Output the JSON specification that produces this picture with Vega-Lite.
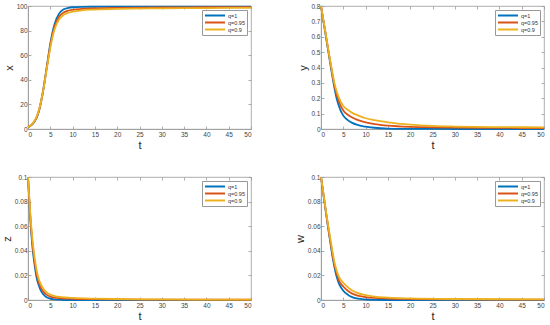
{
  "$schema": "https://vega.github.io/schema/vega-lite/v6.json",
  "padding": {"left": 0, "top": 2, "right": 0, "bottom": 0},
  "background": "white",
  "config": {
    "font": "Liberation Sans",
    "view": {"stroke": "#999", "strokeWidth": 0.8},
    "axis": {"grid": false, "domainColor": "#999", "domainWidth": 0.8, "tickColor": "#999", "tickWidth": 0.8, "tickSize": -3, "labelColor": "#444", "labelFontSize": 6.5, "labelPadding": 5, "titleFontSize": 11, "titleFontWeight": "normal", "titleColor": "#222", "titlePadding": 2},
    "axisY": {"labelPadding": 4},
    "legend": {"orient": "top-right", "offset": 4, "strokeColor": "#999", "fillColor": "white", "padding": 2, "symbolType": "stroke", "symbolSize": 400, "symbolStrokeWidth": 2, "labelFontSize": 5.5, "labelColor": "#333", "labelOffset": 2, "rowPadding": 0, "clipHeight": 7, "title": null}
  },
  "datasets": {
    "dx": [
      {"t": 0, "a": 1.5, "b": 1.5, "c": 1.5},
      {"t": 0.5, "a": 2.5, "b": 2.6, "c": 2.7},
      {"t": 1, "a": 4.0, "b": 4.2, "c": 4.4},
      {"t": 1.5, "a": 6.3, "b": 6.6, "c": 6.9},
      {"t": 2, "a": 9.7, "b": 10.1, "c": 10.5},
      {"t": 2.5, "a": 15.2, "b": 15.6, "c": 16.0},
      {"t": 3, "a": 23.4, "b": 23.6, "c": 23.8},
      {"t": 3.5, "a": 33.5, "b": 33.4, "c": 33.2},
      {"t": 4, "a": 45.5, "b": 45.0, "c": 44.3},
      {"t": 4.5, "a": 57.7, "b": 56.7, "c": 55.5},
      {"t": 5, "a": 69.3, "b": 67.8, "c": 66.0},
      {"t": 5.5, "a": 78.8, "b": 76.8, "c": 74.8},
      {"t": 6, "a": 85.8, "b": 83.6, "c": 81.5},
      {"t": 7, "a": 94.0, "b": 91.5, "c": 89.2},
      {"t": 8, "a": 97.3, "b": 94.8, "c": 92.8},
      {"t": 9, "a": 98.5, "b": 96.2, "c": 94.5},
      {"t": 10, "a": 99.0, "b": 96.9, "c": 95.4},
      {"t": 12, "a": 99.3, "b": 97.6, "c": 96.4},
      {"t": 15, "a": 99.4, "b": 98.1, "c": 97.1},
      {"t": 20, "a": 99.5, "b": 98.5, "c": 97.7},
      {"t": 30, "a": 99.5, "b": 98.8, "c": 98.1},
      {"t": 40, "a": 99.5, "b": 99.0, "c": 98.3},
      {"t": 50, "a": 99.5, "b": 99.1, "c": 98.5}
    ],
    "dy": [
      {"t": 0, "a": 0.8, "b": 0.8, "c": 0.8},
      {"t": 0.5, "a": 0.71, "b": 0.71, "c": 0.715},
      {"t": 1, "a": 0.62, "b": 0.625, "c": 0.63},
      {"t": 1.5, "a": 0.53, "b": 0.535, "c": 0.54},
      {"t": 2, "a": 0.44, "b": 0.45, "c": 0.455},
      {"t": 2.5, "a": 0.35, "b": 0.365, "c": 0.375},
      {"t": 3, "a": 0.27, "b": 0.285, "c": 0.30},
      {"t": 3.5, "a": 0.2, "b": 0.225, "c": 0.245},
      {"t": 4, "a": 0.15, "b": 0.18, "c": 0.205},
      {"t": 5, "a": 0.087, "b": 0.12, "c": 0.15},
      {"t": 6, "a": 0.058, "b": 0.093, "c": 0.125},
      {"t": 7, "a": 0.04, "b": 0.075, "c": 0.105},
      {"t": 8, "a": 0.028, "b": 0.061, "c": 0.092},
      {"t": 10, "a": 0.015, "b": 0.043, "c": 0.07},
      {"t": 12, "a": 0.008, "b": 0.032, "c": 0.057},
      {"t": 15, "a": 0.003, "b": 0.022, "c": 0.043},
      {"t": 20, "a": 0.001, "b": 0.014, "c": 0.028},
      {"t": 25, "a": 0.0003, "b": 0.011, "c": 0.02},
      {"t": 30, "a": 0.0001, "b": 0.009, "c": 0.016},
      {"t": 40, "a": 0, "b": 0.007, "c": 0.012},
      {"t": 50, "a": 0, "b": 0.006, "c": 0.011}
    ],
    "dz": [
      {"t": 0, "a": 0.1, "b": 0.1, "c": 0.1},
      {"t": 0.25, "a": 0.083, "b": 0.084, "c": 0.085},
      {"t": 0.5, "a": 0.067, "b": 0.069, "c": 0.071},
      {"t": 1, "a": 0.043, "b": 0.046, "c": 0.049},
      {"t": 1.5, "a": 0.028, "b": 0.031, "c": 0.034},
      {"t": 2, "a": 0.017, "b": 0.020, "c": 0.023},
      {"t": 2.5, "a": 0.011, "b": 0.0135, "c": 0.016},
      {"t": 3, "a": 0.0068, "b": 0.0093, "c": 0.0118},
      {"t": 3.5, "a": 0.0043, "b": 0.0066, "c": 0.0088},
      {"t": 4, "a": 0.0027, "b": 0.0048, "c": 0.0068},
      {"t": 5, "a": 0.0011, "b": 0.0028, "c": 0.0044},
      {"t": 6, "a": 0.0005, "b": 0.0019, "c": 0.0032},
      {"t": 7.5, "a": 0.0002, "b": 0.0014, "c": 0.0024},
      {"t": 10, "a": 0, "b": 0.001, "c": 0.0017},
      {"t": 15, "a": 0, "b": 0.0007, "c": 0.0011},
      {"t": 20, "a": 0, "b": 0.0005, "c": 0.0008},
      {"t": 30, "a": 0, "b": 0.0003, "c": 0.0005},
      {"t": 50, "a": 0, "b": 0.0002, "c": 0.0003}
    ],
    "dw": [
      {"t": 0, "a": 0.1, "b": 0.1, "c": 0.1},
      {"t": 0.5, "a": 0.087, "b": 0.087, "c": 0.088},
      {"t": 1, "a": 0.074, "b": 0.074, "c": 0.075},
      {"t": 1.5, "a": 0.061, "b": 0.062, "c": 0.063},
      {"t": 2, "a": 0.049, "b": 0.050, "c": 0.052},
      {"t": 2.5, "a": 0.037, "b": 0.039, "c": 0.041},
      {"t": 3, "a": 0.027, "b": 0.029, "c": 0.031},
      {"t": 3.5, "a": 0.019, "b": 0.022, "c": 0.024},
      {"t": 4, "a": 0.0135, "b": 0.016, "c": 0.019},
      {"t": 5, "a": 0.0075, "b": 0.011, "c": 0.014},
      {"t": 6, "a": 0.0043, "b": 0.0075, "c": 0.0105},
      {"t": 7, "a": 0.0024, "b": 0.0052, "c": 0.0078},
      {"t": 8, "a": 0.0013, "b": 0.0038, "c": 0.006},
      {"t": 10, "a": 0.0004, "b": 0.0024, "c": 0.004},
      {"t": 12, "a": 0.0001, "b": 0.0017, "c": 0.0028},
      {"t": 15, "a": 0, "b": 0.0012, "c": 0.002},
      {"t": 20, "a": 0, "b": 0.0008, "c": 0.0013},
      {"t": 30, "a": 0, "b": 0.0005, "c": 0.0008},
      {"t": 50, "a": 0, "b": 0.0003, "c": 0.0005}
    ]
  },
  "columns": 2,
  "spacing": {"row": 48, "column": 70},
  "bounds": "flush",
  "resolve": {"legend": {"color": "independent"}},
  "concat": [
    {
      "width": 223, "height": 123,
      "data": {"name": "dx"},
      "transform": [{"fold": ["a", "b", "c"], "as": ["q", "v"]}],
      "layer": [
        {"mark": {"type": "line", "strokeWidth": 1.8, "interpolate": "monotone"},
         "encoding": {
           "x": {"field": "t", "type": "quantitative", "scale": {"domain": [0, 50], "nice": false}, "axis": {"values": [0,5,10,15,20,25,30,35,40,45,50], "title": "t"}},
           "y": {"field": "v", "type": "quantitative", "scale": {"domain": [0, 100], "nice": false}, "axis": {"values": [0,20,40,60,80,100], "format": "~r", "title": "x"}},
           "color": {"field": "q", "type": "nominal", "scale": {"domain": ["a", "b", "c"], "range": ["#0072BD", "#D95319", "#EDB120"]}, "legend": {"labelExpr": "datum.label == 'a' ? 'q=1' : datum.label == 'b' ? 'q=0.95' : 'q=0.9'"}}
         }},
        {"mark": {"type": "point", "opacity": 0},
         "encoding": {
           "x": {"field": "t", "type": "quantitative", "axis": {"orient": "top", "values": [0,5,10,15,20,25,30,35,40,45,50], "labels": false, "title": null, "domain": false}},
           "y": {"field": "v", "type": "quantitative", "axis": {"orient": "right", "values": [0,20,40,60,80,100], "labels": false, "title": null, "domain": false}}
         }}
      ],
      "resolve": {"axis": {"x": "independent", "y": "independent"}}
    },
    {
      "width": 223, "height": 123,
      "data": {"name": "dy"},
      "transform": [{"fold": ["a", "b", "c"], "as": ["q", "v"]}],
      "layer": [
        {"mark": {"type": "line", "strokeWidth": 1.8, "interpolate": "monotone"},
         "encoding": {
           "x": {"field": "t", "type": "quantitative", "scale": {"domain": [0, 50], "nice": false}, "axis": {"values": [0,5,10,15,20,25,30,35,40,45,50], "title": "t"}},
           "y": {"field": "v", "type": "quantitative", "scale": {"domain": [0, 0.8], "nice": false}, "axis": {"values": [0,0.1,0.2,0.3,0.4,0.5,0.6,0.7,0.8], "format": "~r", "title": "y"}},
           "color": {"field": "q", "type": "nominal", "scale": {"domain": ["a", "b", "c"], "range": ["#0072BD", "#D95319", "#EDB120"]}, "legend": {"labelExpr": "datum.label == 'a' ? 'q=1' : datum.label == 'b' ? 'q=0.95' : 'q=0.9'"}}
         }},
        {"mark": {"type": "point", "opacity": 0},
         "encoding": {
           "x": {"field": "t", "type": "quantitative", "axis": {"orient": "top", "values": [0,5,10,15,20,25,30,35,40,45,50], "labels": false, "title": null, "domain": false}},
           "y": {"field": "v", "type": "quantitative", "axis": {"orient": "right", "values": [0,0.1,0.2,0.3,0.4,0.5,0.6,0.7,0.8], "labels": false, "title": null, "domain": false}}
         }}
      ],
      "resolve": {"axis": {"x": "independent", "y": "independent"}}
    },
    {
      "width": 223, "height": 123,
      "data": {"name": "dz"},
      "transform": [{"fold": ["a", "b", "c"], "as": ["q", "v"]}],
      "layer": [
        {"mark": {"type": "line", "strokeWidth": 1.8, "interpolate": "monotone"},
         "encoding": {
           "x": {"field": "t", "type": "quantitative", "scale": {"domain": [0, 50], "nice": false}, "axis": {"values": [0,5,10,15,20,25,30,35,40,45,50], "title": "t"}},
           "y": {"field": "v", "type": "quantitative", "scale": {"domain": [0, 0.1], "nice": false}, "axis": {"values": [0,0.02,0.04,0.06,0.08,0.1], "format": "~r", "title": "z"}},
           "color": {"field": "q", "type": "nominal", "scale": {"domain": ["a", "b", "c"], "range": ["#0072BD", "#D95319", "#EDB120"]}, "legend": {"labelExpr": "datum.label == 'a' ? 'q=1' : datum.label == 'b' ? 'q=0.95' : 'q=0.9'"}}
         }},
        {"mark": {"type": "point", "opacity": 0},
         "encoding": {
           "x": {"field": "t", "type": "quantitative", "axis": {"orient": "top", "values": [0,5,10,15,20,25,30,35,40,45,50], "labels": false, "title": null, "domain": false}},
           "y": {"field": "v", "type": "quantitative", "axis": {"orient": "right", "values": [0,0.02,0.04,0.06,0.08,0.1], "labels": false, "title": null, "domain": false}}
         }}
      ],
      "resolve": {"axis": {"x": "independent", "y": "independent"}}
    },
    {
      "width": 223, "height": 123,
      "data": {"name": "dw"},
      "transform": [{"fold": ["a", "b", "c"], "as": ["q", "v"]}],
      "layer": [
        {"mark": {"type": "line", "strokeWidth": 1.8, "interpolate": "monotone"},
         "encoding": {
           "x": {"field": "t", "type": "quantitative", "scale": {"domain": [0, 50], "nice": false}, "axis": {"values": [0,5,10,15,20,25,30,35,40,45,50], "title": "t"}},
           "y": {"field": "v", "type": "quantitative", "scale": {"domain": [0, 0.1], "nice": false}, "axis": {"values": [0,0.02,0.04,0.06,0.08,0.1], "format": "~r", "title": "w"}},
           "color": {"field": "q", "type": "nominal", "scale": {"domain": ["a", "b", "c"], "range": ["#0072BD", "#D95319", "#EDB120"]}, "legend": {"labelExpr": "datum.label == 'a' ? 'q=1' : datum.label == 'b' ? 'q=0.95' : 'q=0.9'"}}
         }},
        {"mark": {"type": "point", "opacity": 0},
         "encoding": {
           "x": {"field": "t", "type": "quantitative", "axis": {"orient": "top", "values": [0,5,10,15,20,25,30,35,40,45,50], "labels": false, "title": null, "domain": false}},
           "y": {"field": "v", "type": "quantitative", "axis": {"orient": "right", "values": [0,0.02,0.04,0.06,0.08,0.1], "labels": false, "title": null, "domain": false}}
         }}
      ],
      "resolve": {"axis": {"x": "independent", "y": "independent"}}
    }
  ]
}
